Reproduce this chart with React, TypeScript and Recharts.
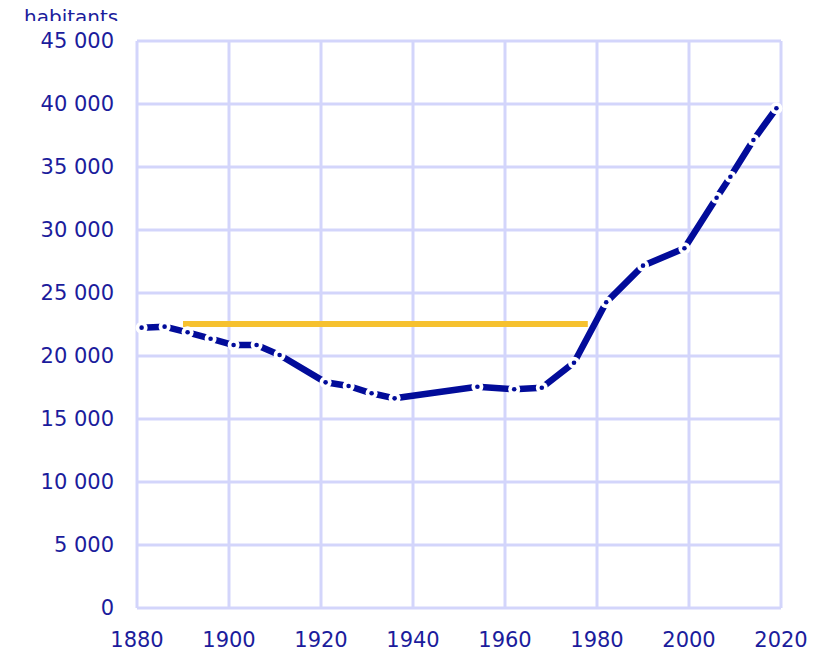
import { LineChart, Line, XAxis, YAxis, CartesianGrid, ReferenceLine } from 'recharts';

const years = [1881, 1886, 1891, 1896, 1901, 1906, 1911, 1921, 1926, 1931, 1936, 1954, 1962, 1968, 1975, 1982, 1990, 1999, 2006, 2009, 2014, 2019];
const population = [22250, 22330, 21880, 21370, 20870, 20870, 20080, 17910, 17620, 17040, 16640, 17560, 17360, 17480, 19470, 24260, 27170, 28550, 32560, 34230, 37140, 39660];

const xTicks = [1880, 1900, 1920, 1940, 1960, 1980, 2000, 2020];
const yTicks = [0, 5000, 10000, 15000, 20000, 25000, 30000, 35000, 40000, 45000];

// yellow reference level
const refStart = 1890;
const refEnd = 1978;
const refValue = 22540;

const NAVY = '#020c9a';
const TEXT = '#1b1c9c';
const GRID = '#d3d5fb';
const FONT = '"DejaVu Sans", sans-serif';

const data = years.map((year, i) => ({ year, pop: population[i] }));

const fmt = (v: number) => (v >= 1000 ? `${Math.floor(v / 1000)} ${String(v % 1000).padStart(3, '0')}` : String(v));

function CensusDot(props: any) {
  const { cx, cy, index } = props;
  if (cx == null || cy == null) return null;
  return (
    <g key={`dot-${index}`}>
      <circle cx={cx} cy={cy} r={6} fill="#ffffff" />
      <circle cx={cx} cy={cy} r={2.3} fill={NAVY} />
    </g>
  );
}

export default function App() {
  return (
    <div style={{ position: 'absolute', left: 0, top: 0, width: 837, height: 654, background: '#fff' }}>
      <div
        style={{
          position: 'absolute',
          left: 24,
          top: 0,
          height: 21,
          overflow: 'hidden',
          fontFamily: FONT,
          fontSize: 20,
          lineHeight: 1,
          color: TEXT,
          paddingTop: 6.5,
          boxSizing: 'border-box',
        }}
      >
        habitants
      </div>
      <LineChart width={837} height={654} data={data} margin={{ top: 41, right: 56, bottom: 0, left: 0 }}>
        <CartesianGrid stroke={GRID} strokeWidth={3} />
        <XAxis
          dataKey="year"
          type="number"
          domain={[1880, 2020]}
          ticks={xTicks}
          axisLine={false}
          tickLine={false}
          tickSize={0}
          tickMargin={24}
          height={46}
          tick={{ fill: TEXT, fontSize: 21, fontFamily: FONT }}
        />
        <YAxis
          type="number"
          domain={[0, 45000]}
          ticks={yTicks}
          axisLine={false}
          tickLine={false}
          tickSize={0}
          tickMargin={23}
          width={137}
          tickFormatter={fmt}
          tick={{ fill: TEXT, fontSize: 21, fontFamily: FONT }}
        />
        <ReferenceLine
          segment={[
            { x: refStart, y: refValue },
            { x: refEnd, y: refValue },
          ]}
          stroke="#f6c12f"
          strokeWidth={6}
        />
        <Line
          type="linear"
          dataKey="pop"
          stroke={NAVY}
          strokeWidth={6.5}
          strokeLinejoin="round"
          dot={<CensusDot />}
          activeDot={false}
          isAnimationActive={false}
        />
      </LineChart>
    </div>
  );
}
